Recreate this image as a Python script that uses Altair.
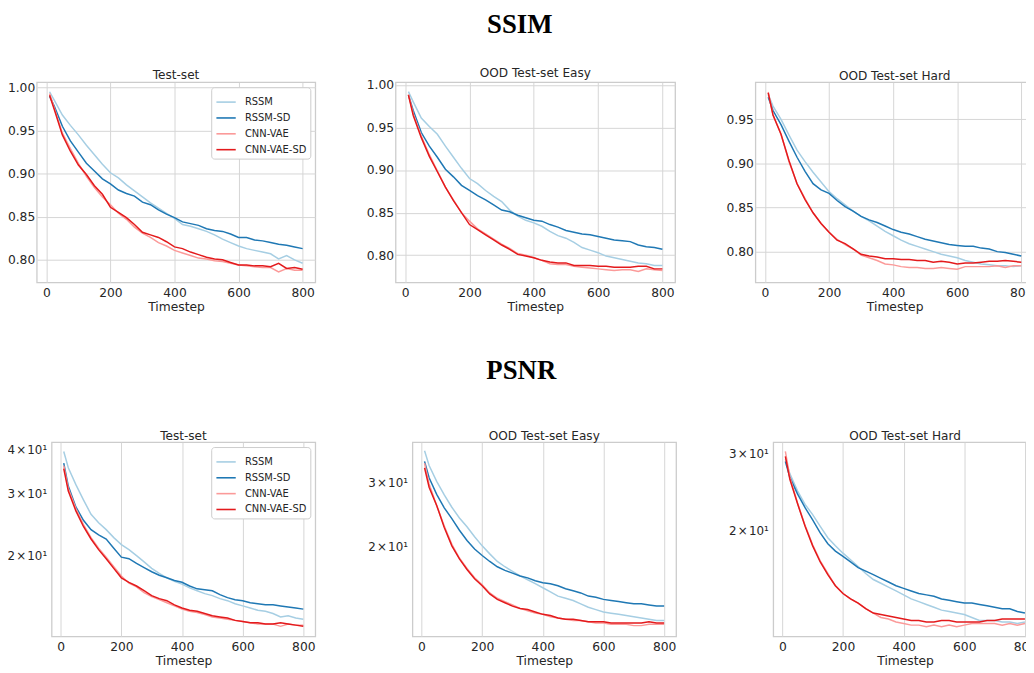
import altair as alt
import pandas as pd

STEPS = [10, 25, 50, 75, 100, 125, 150, 175, 200, 225, 250, 275, 300, 325, 350, 375,
         400, 425, 450, 475, 500, 525, 550, 575, 600, 625, 650, 675, 700, 725, 750, 775, 800]
MODELS = ["RSSM", "RSSM-SD", "CNN-VAE", "CNN-VAE-SD"]
COLORS = ["#a6cee3", "#1f78b4", "#fb9a99", "#e31a1c"]
X_TICKS = [0, 200, 400, 600, 800]

# ---------------- SSIM ----------------
ssim_test_rssm = [0.995, 0.985, 0.968, 0.956, 0.945, 0.933, 0.922, 0.911, 0.901, 0.895, 0.887, 0.880, 0.873, 0.866, 0.860, 0.854, 0.848, 0.841, 0.839, 0.836, 0.833, 0.829, 0.824, 0.820, 0.816, 0.813, 0.811, 0.809, 0.807, 0.801, 0.805, 0.800, 0.796]
ssim_test_rssm_sd = [0.990, 0.978, 0.955, 0.938, 0.925, 0.912, 0.903, 0.894, 0.888, 0.881, 0.877, 0.874, 0.867, 0.864, 0.858, 0.853, 0.849, 0.844, 0.842, 0.840, 0.836, 0.834, 0.833, 0.830, 0.826, 0.826, 0.823, 0.822, 0.820, 0.818, 0.817, 0.815, 0.813]
ssim_test_cnn = [0.993, 0.976, 0.947, 0.929, 0.912, 0.897, 0.884, 0.873, 0.864, 0.854, 0.847, 0.838, 0.831, 0.826, 0.820, 0.816, 0.811, 0.808, 0.805, 0.802, 0.801, 0.799, 0.798, 0.796, 0.794, 0.793, 0.792, 0.791, 0.791, 0.786, 0.790, 0.788, 0.788]
ssim_test_cnn_sd = [0.991, 0.974, 0.945, 0.926, 0.910, 0.899, 0.886, 0.876, 0.861, 0.855, 0.849, 0.841, 0.832, 0.829, 0.826, 0.821, 0.815, 0.813, 0.809, 0.806, 0.803, 0.801, 0.800, 0.797, 0.794, 0.794, 0.793, 0.793, 0.792, 0.796, 0.790, 0.791, 0.789]

ssim_easy_rssm = [0.992, 0.980, 0.961, 0.951, 0.942, 0.928, 0.915, 0.902, 0.890, 0.884, 0.876, 0.869, 0.863, 0.853, 0.846, 0.841, 0.838, 0.834, 0.828, 0.823, 0.820, 0.815, 0.809, 0.806, 0.803, 0.799, 0.797, 0.795, 0.793, 0.791, 0.790, 0.788, 0.788]
ssim_easy_rssm_sd = [0.988, 0.970, 0.944, 0.928, 0.915, 0.901, 0.892, 0.882, 0.876, 0.870, 0.865, 0.859, 0.853, 0.851, 0.847, 0.844, 0.841, 0.840, 0.836, 0.833, 0.829, 0.827, 0.825, 0.824, 0.822, 0.820, 0.818, 0.817, 0.816, 0.812, 0.810, 0.809, 0.807]
ssim_easy_cnn = [0.989, 0.966, 0.940, 0.918, 0.899, 0.880, 0.865, 0.850, 0.840, 0.831, 0.825, 0.819, 0.813, 0.808, 0.802, 0.800, 0.797, 0.794, 0.790, 0.789, 0.789, 0.787, 0.786, 0.785, 0.784, 0.783, 0.782, 0.783, 0.783, 0.781, 0.784, 0.783, 0.782]
ssim_easy_cnn_sd = [0.988, 0.964, 0.938, 0.916, 0.898, 0.880, 0.864, 0.850, 0.836, 0.830, 0.824, 0.818, 0.812, 0.807, 0.801, 0.799, 0.797, 0.794, 0.792, 0.791, 0.791, 0.788, 0.788, 0.788, 0.787, 0.787, 0.786, 0.786, 0.786, 0.787, 0.787, 0.784, 0.784]

ssim_hard_rssm = [0.978, 0.965, 0.950, 0.932, 0.915, 0.902, 0.890, 0.879, 0.868, 0.860, 0.853, 0.846, 0.840, 0.835, 0.829, 0.823, 0.818, 0.813, 0.809, 0.806, 0.803, 0.800, 0.797, 0.795, 0.793, 0.790, 0.788, 0.786, 0.785, 0.784, 0.784, 0.783, 0.784]
ssim_hard_rssm_sd = [0.975, 0.960, 0.944, 0.925, 0.907, 0.891, 0.877, 0.870, 0.866, 0.858, 0.851, 0.846, 0.840, 0.836, 0.833, 0.829, 0.825, 0.822, 0.820, 0.817, 0.814, 0.812, 0.810, 0.808, 0.807, 0.806, 0.806, 0.804, 0.803, 0.800, 0.799, 0.797, 0.795]
ssim_hard_cnn = [0.981, 0.955, 0.933, 0.902, 0.877, 0.860, 0.844, 0.832, 0.822, 0.814, 0.808, 0.803, 0.796, 0.793, 0.790, 0.786, 0.785, 0.783, 0.782, 0.782, 0.781, 0.781, 0.782, 0.781, 0.780, 0.783, 0.783, 0.783, 0.783, 0.784, 0.782, 0.784, 0.784]
ssim_hard_cnn_sd = [0.980, 0.955, 0.933, 0.903, 0.877, 0.859, 0.844, 0.832, 0.822, 0.813, 0.809, 0.803, 0.797, 0.795, 0.794, 0.792, 0.792, 0.791, 0.791, 0.790, 0.790, 0.788, 0.789, 0.788, 0.786, 0.787, 0.787, 0.788, 0.789, 0.789, 0.790, 0.789, 0.788]

# ---------------- PSNR ----------------
psnr_test_rssm = [39.5, 35.5, 31.8, 28.8, 26.2, 24.8, 23.7, 22.5, 21.5, 20.8, 20.0, 19.2, 18.4, 17.8, 17.3, 16.9, 16.6, 16.2, 15.9, 15.6, 15.4, 15.1, 14.9, 14.6, 14.4, 14.2, 14.0, 13.9, 13.7, 13.4, 13.5, 13.3, 13.2]
psnr_test_rssm_sd = [36.6, 31.5, 27.5, 25.2, 23.7, 22.9, 22.3, 21.0, 19.8, 19.6, 19.0, 18.5, 18.0, 17.6, 17.3, 17.0, 16.8, 16.4, 16.1, 16.0, 15.9, 15.5, 15.2, 15.0, 14.9, 14.7, 14.6, 14.5, 14.5, 14.4, 14.3, 14.2, 14.1]
psnr_test_cnn = [36.0, 31.0, 27.2, 24.5, 22.5, 21.0, 19.8, 18.6, 17.5, 16.7, 16.3, 15.7, 15.3, 15.0, 14.7, 14.4, 14.1, 13.9, 13.8, 13.6, 13.4, 13.3, 13.2, 13.1, 13.0, 12.9, 12.8, 12.8, 12.8, 12.6, 12.8, 12.7, 12.7]
psnr_test_cnn_sd = [35.3, 30.5, 26.8, 24.2, 22.3, 20.8, 19.6, 18.4, 17.3, 16.8, 16.4, 15.9, 15.4, 15.1, 14.9, 14.5, 14.2, 14.0, 13.9, 13.7, 13.5, 13.4, 13.3, 13.1, 13.0, 12.9, 12.9, 12.8, 12.8, 12.9, 12.8, 12.7, 12.6]

psnr_easy_rssm = [36.8, 33.5, 30.3, 27.8, 25.7, 24.0, 22.7, 21.3, 20.1, 19.1, 18.2, 17.6, 17.1, 16.6, 16.2, 15.8, 15.4, 15.0, 14.6, 14.4, 14.2, 13.9, 13.6, 13.4, 13.2, 13.1, 13.0, 12.9, 12.8, 12.7, 12.6, 12.5, 12.5]
psnr_easy_rssm_sd = [34.4, 31.0, 27.9, 25.6, 23.9, 22.2, 20.8, 19.7, 18.9, 18.2, 17.6, 17.2, 16.9, 16.6, 16.4, 16.1, 15.9, 15.8, 15.6, 15.3, 15.1, 14.9, 14.6, 14.5, 14.3, 14.2, 14.1, 14.0, 13.9, 13.9, 13.8, 13.7, 13.7]
psnr_easy_cnn = [34.0, 29.8, 26.0, 22.8, 20.3, 18.6, 17.4, 16.4, 15.7, 14.9, 14.4, 14.1, 13.8, 13.5, 13.3, 13.1, 13.0, 12.8, 12.7, 12.6, 12.5, 12.5, 12.4, 12.3, 12.3, 12.2, 12.2, 12.2, 12.1, 12.1, 12.2, 12.2, 12.2]
psnr_easy_cnn_sd = [33.0, 29.2, 26.0, 22.6, 20.1, 18.5, 17.3, 16.3, 15.6, 14.8, 14.3, 14.0, 13.7, 13.5, 13.4, 13.2, 13.0, 12.9, 12.7, 12.6, 12.6, 12.5, 12.4, 12.4, 12.4, 12.3, 12.3, 12.3, 12.3, 12.3, 12.4, 12.3, 12.3]

psnr_hard_rssm = [29.2, 27.0, 24.7, 23.0, 21.8, 20.5, 19.3, 18.5, 17.8, 17.2, 16.6, 16.0, 15.5, 15.2, 14.9, 14.6, 14.3, 14.0, 13.8, 13.6, 13.4, 13.2, 13.1, 13.0, 12.9, 12.7, 12.5, 12.5, 12.5, 12.4, 12.4, 12.3, 12.4]
psnr_hard_rssm_sd = [28.8, 26.5, 24.3, 22.6, 21.2, 19.8, 18.7, 18.0, 17.5, 17.0, 16.5, 16.2, 15.9, 15.6, 15.3, 15.0, 14.8, 14.6, 14.4, 14.3, 14.2, 14.0, 13.9, 13.8, 13.7, 13.7, 13.6, 13.5, 13.4, 13.3, 13.3, 13.1, 13.0]
psnr_hard_cnn = [30.4, 26.5, 23.2, 20.6, 18.6, 17.1, 16.0, 15.0, 14.4, 14.0, 13.7, 13.3, 13.0, 12.7, 12.6, 12.4, 12.3, 12.2, 12.2, 12.1, 12.2, 12.1, 12.2, 12.1, 12.2, 12.3, 12.3, 12.3, 12.3, 12.2, 12.3, 12.2, 12.3]
psnr_hard_cnn_sd = [29.6, 26.2, 23.1, 20.5, 18.5, 17.0, 15.9, 15.0, 14.4, 14.0, 13.7, 13.3, 13.0, 12.9, 12.8, 12.7, 12.6, 12.5, 12.5, 12.4, 12.4, 12.5, 12.5, 12.4, 12.4, 12.4, 12.4, 12.5, 12.5, 12.6, 12.6, 12.6, 12.6]

TEXT = "#262626"
GRID = "#d6d6d6"
FONT = "DejaVu Sans"


def build_frame(series):
    rows = []
    for model, vals in zip(MODELS, series):
        for step, v in zip(STEPS, vals):
            rows.append({"Timestep": step, "Model": model, "value": v})
    return pd.DataFrame(rows)


def panel(series, title, ydomain, yvalues, log, show_legend, width, height):
    df = build_frame(series)
    if show_legend:
        legend = alt.Legend(
            orient="top-right", offset=5, title=None, fillColor="white",
            strokeColor="#cccccc", cornerRadius=3, padding=4,
            labelFont=FONT, labelFontSize=10, labelColor=TEXT, labelOffset=8,
            symbolType="stroke", symbolStrokeWidth=1.6, symbolSize=380,
            rowPadding=-4,
        )
    else:
        legend = None
    if log:
        yscale = alt.Scale(type="log", domain=ydomain, nice=False)
        yaxis = alt.Axis(values=yvalues, grid=False, title=None, labelFontSize=12,
                         labelExpr="floor(datum.value / 10) + '\u200a\u00d7\u200a10\u00b9'",
                         labelPadding=5)
    else:
        yscale = alt.Scale(domain=ydomain, nice=False, zero=False)
        yaxis = alt.Axis(values=yvalues, grid=True, title=None, format=".2f",
                         labelPadding=2)
    return alt.Chart(df, title=alt.Title(title, fontSize=12.2, font=FONT, color=TEXT,
                                          fontWeight="normal", offset=0)).mark_line(
        strokeWidth=1.5, clip=True
    ).encode(
        x=alt.X("Timestep:Q", scale=alt.Scale(domain=[-30, 839.5], nice=False, zero=False),
                axis=alt.Axis(values=X_TICKS, grid=True, title="Timestep", labelPadding=4,
                              titlePadding=2)),
        y=alt.Y("value:Q", scale=yscale, axis=yaxis),
        color=alt.Color("Model:N", scale=alt.Scale(domain=MODELS, range=COLORS), legend=legend),
    ).properties(width=width, height=height)


def spacer():
    # an empty (no marks), invisible 1x1 view that anchors each row at the left edge
    return alt.Chart(pd.DataFrame({"v": [0]})).transform_filter(
        "datum.v > 1"
    ).mark_point(opacity=0).encode(
        x=alt.value(0), y=alt.value(0)
    ).properties(width=1, height=1, view=alt.ViewBackground(strokeOpacity=0))


ssim_panels = alt.hconcat(
    panel([ssim_test_rssm, ssim_test_rssm_sd, ssim_test_cnn, ssim_test_cnn_sd], "Test-set",
          [0.7737, 1.006], [0.80, 0.85, 0.90, 0.95, 1.00], False, True, 281, 202),
    panel([ssim_easy_rssm, ssim_easy_rssm_sd, ssim_easy_cnn, ssim_easy_cnn_sd], "OOD Test-set Easy",
          [0.768, 1.003], [0.80, 0.85, 0.90, 0.95, 1.00], False, False, 282, 202),
    panel([ssim_hard_rssm, ssim_hard_rssm_sd, ssim_hard_cnn, ssim_hard_cnn_sd], "OOD Test-set Hard",
          [0.765, 0.992], [0.80, 0.85, 0.90, 0.95], False, False, 281, 202),
    spacing=49,
).resolve_scale(color="independent")

psnr_panels = alt.hconcat(
    panel([psnr_test_rssm, psnr_test_rssm_sd, psnr_test_cnn, psnr_test_cnn_sd], "Test-set",
          [11.8, 42.0], [20, 30, 40], True, True, 266, 196),
    panel([psnr_easy_rssm, psnr_easy_rssm_sd, psnr_easy_cnn, psnr_easy_cnn_sd], "OOD Test-set Easy",
          [11.3, 38.9], [20, 30], True, False, 266, 196),
    panel([psnr_hard_rssm, psnr_hard_rssm_sd, psnr_hard_cnn, psnr_hard_cnn_sd], "OOD Test-set Hard",
          [11.5, 31.9], [20, 30], True, False, 266, 196),
    spacing=51,
).resolve_scale(color="independent")

ssim_row = alt.hconcat(spacer(), ssim_panels, spacing=0).resolve_scale(
    color="independent"
).properties(
    title=alt.Title("SSIM", font="Liberation Serif", fontSize=27, fontWeight="bold",
                    color="black", anchor="middle", offset=27)
)

psnr_row = alt.hconcat(spacer(), psnr_panels, spacing=0).resolve_scale(
    color="independent"
).properties(
    title=alt.Title("PSNR", font="Liberation Serif", fontSize=27, fontWeight="bold",
                    color="black", anchor="middle", offset=45)
)

chart = alt.concat(ssim_row, psnr_row, columns=1, align="none", spacing=43).resolve_scale(
    color="independent"
).properties(
    padding={"left": -3, "top": 0, "right": -12, "bottom": 0},
    background="white",
).configure_axis(
    labelFont=FONT, labelFontSize=12.4, labelColor=TEXT,
    titleFont=FONT, titleFontSize=12.4, titleColor=TEXT, titleFontWeight="normal",
    gridColor=GRID, gridWidth=1, domain=False, ticks=False,
).configure_view(
    stroke="#cccccc", strokeWidth=1.3,
)

chart.save("out.html", embed_options={"renderer": "svg", "actions": False})
